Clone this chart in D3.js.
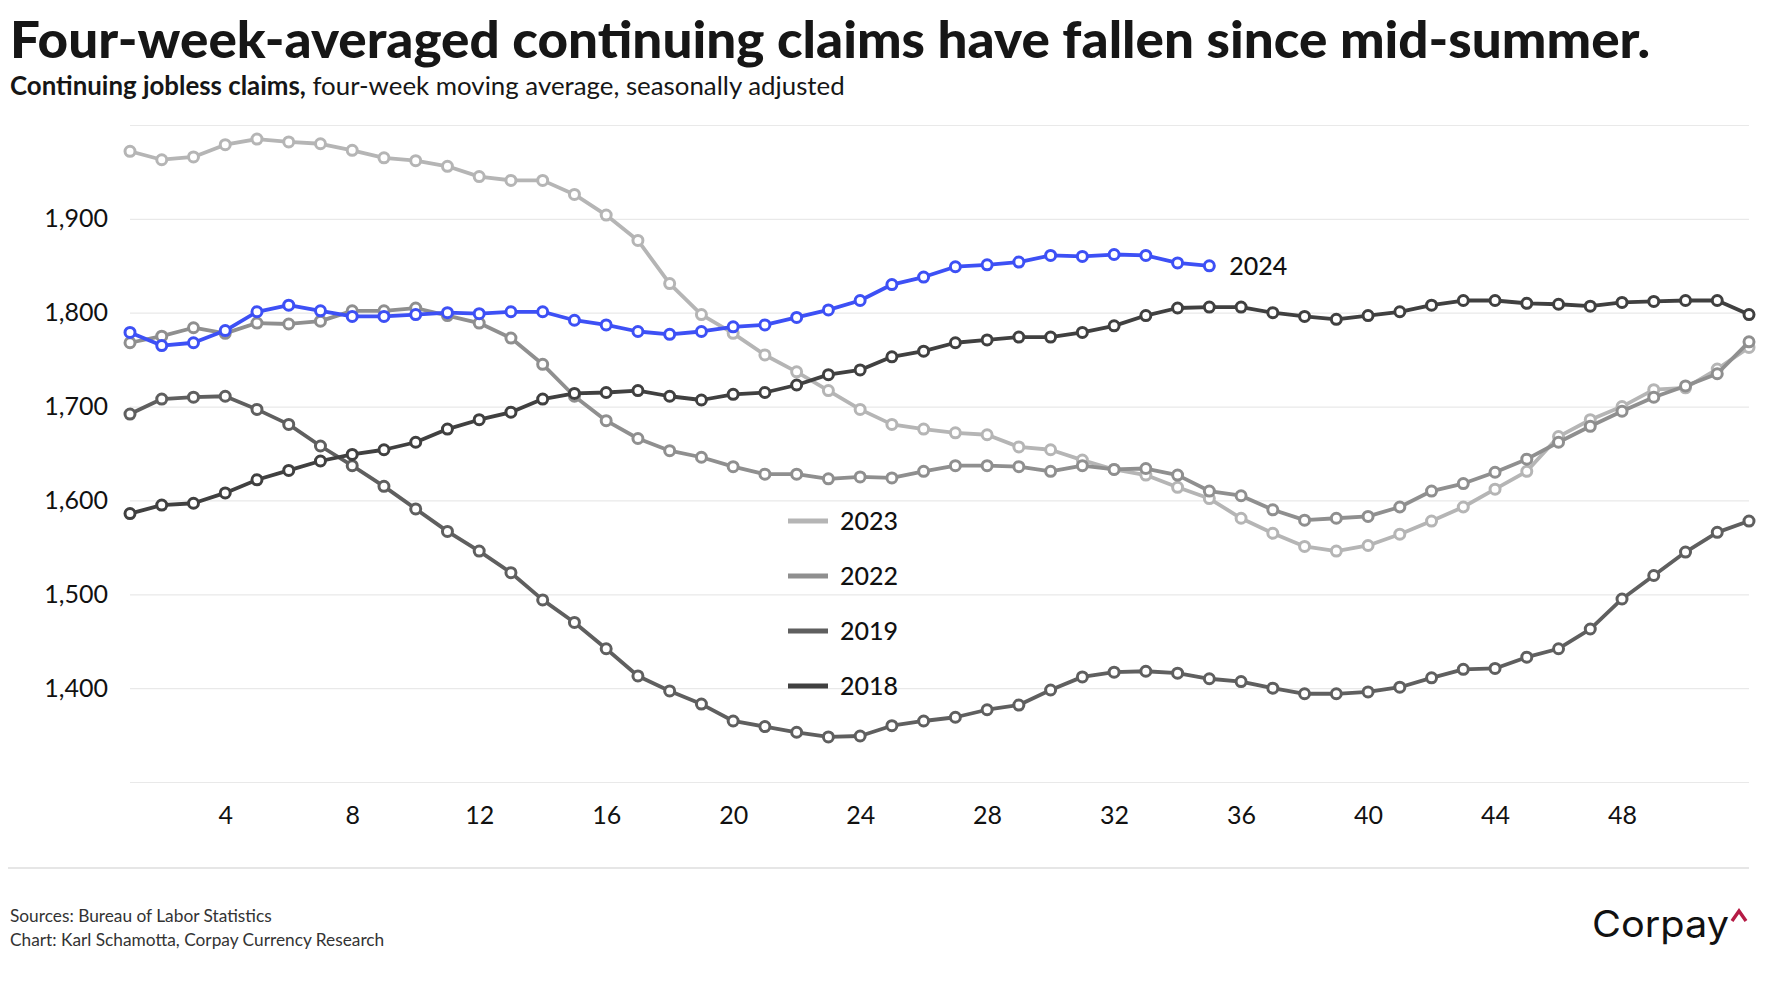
<!DOCTYPE html>
<html>
<head>
<meta charset="utf-8">
<script src="https://cdn.jsdelivr.net/npm/d3@7"></script>
<style>
  body { margin: 0; background: #fff; }
  svg { display: block; font-family: Lato, "Noto Sans", sans-serif; }
</style>
</head>
<body>
<script>
/*** global variable/s ***/
const width = 1766, height = 1000;

const weeks = d3.range(1, 53);
const xTicks = [4, 8, 12, 16, 20, 24, 28, 32, 36, 40, 44, 48];
const yTicks = [1400, 1500, 1600, 1700, 1800, 1900];
const gridValues = [1300, 1400, 1500, 1600, 1700, 1800, 1900, 2000];

// thousands
const claims2023 = [1972, 1963, 1966, 1979, 1985, 1982, 1980, 1973, 1965, 1962, 1956, 1945, 1941, 1941, 1926, 1904, 1877, 1831, 1798, 1778, 1755, 1737, 1717, 1697, 1681, 1676, 1672, 1670, 1657, 1654, 1643, 1633, 1627, 1614, 1602, 1581, 1565, 1551, 1546, 1552, 1564, 1578, 1593, 1612, 1631, 1668, 1686, 1700, 1718, 1720, 1740, 1763];
const claims2022 = [1768, 1775, 1784, 1778, 1789, 1788, 1791, 1802, 1802, 1805, 1797, 1789, 1773, 1745, 1711, 1685, 1666, 1653, 1646, 1636, 1628, 1628, 1623, 1625, 1624, 1631, 1637, 1637, 1636, 1631, 1637, 1633, 1634, 1627, 1610, 1605, 1590, 1579, 1581, 1583, 1593, 1610, 1618, 1630, 1644, 1662, 1679, 1695, 1710, 1722, 1735, 1769];
const claims2019 = [1692, 1708, 1710, 1711, 1697, 1681, 1658, 1637, 1615, 1591, 1567, 1546, 1523, 1494, 1470, 1442, 1413, 1397, 1383, 1365, 1359, 1353, 1348, 1349, 1360, 1365, 1369, 1377, 1382, 1398, 1412, 1417, 1418, 1416, 1410, 1407, 1400, 1394, 1394, 1396, 1401, 1411, 1420, 1421, 1433, 1442, 1463, 1495, 1520, 1545, 1566, 1578];
const claims2018 = [1586, 1595, 1597, 1608, 1622, 1632, 1642, 1649, 1654, 1662, 1676, 1686, 1694, 1708, 1714, 1715, 1717, 1711, 1707, 1713, 1715, 1723, 1734, 1739, 1753, 1759, 1768, 1771, 1774, 1774, 1779, 1786, 1797, 1805, 1806, 1806, 1800, 1796, 1793, 1797, 1801, 1808, 1813, 1813, 1810, 1809, 1807, 1811, 1812, 1813, 1813, 1798];
const claims2024 = [1779, 1765, 1768, 1781, 1801, 1808, 1802, 1796, 1796, 1798, 1800, 1799, 1801, 1801, 1792, 1787, 1780, 1777, 1780, 1785, 1787, 1795, 1803, 1813, 1830, 1838, 1849, 1851, 1854, 1861, 1860, 1862, 1861, 1853, 1850];

const series = [
  { name: "2023", values: claims2023, color: "#b5b5b5" },
  { name: "2022", values: claims2022, color: "#8f8f8f" },
  { name: "2019", values: claims2019, color: "#5f5f5f" },
  { name: "2018", values: claims2018, color: "#404040" },
  { name: "2024", values: claims2024, color: "#3d50f5" }
];
const legendNames = ["2023", "2022", "2019", "2018"];

/*** scales ***/
const x = d3.scaleLinear().domain([1, 52]).range([130, 1749]);
const y = d3.scaleLinear().domain([1300, 2000]).range([782, 125]);

const svg = d3.select("body").append("svg")
  .attr("width", width)
  .attr("height", height)
  .attr("viewBox", [0, 0, width, height]);

/*** title ***/
svg.append("text")
  .attr("x", 10).attr("y", 58)
  .attr("font-size", 52)
  .attr("font-weight", 900)
  .attr("fill", "#161616")
  .attr("textLength", 1640)
  .attr("lengthAdjust", "spacingAndGlyphs")
  .text("Four-week-averaged continuing claims have fallen since mid-summer.");

const sub = svg.append("text")
  .attr("x", 10).attr("y", 95)
  .attr("font-size", 24)
  .attr("fill", "#161616");
sub.append("tspan").attr("font-weight", 700).text("Continuing jobless claims,");
sub.append("tspan").text(" four-week moving average, seasonally adjusted");
const subW = sub.node().getComputedTextLength();
sub.attr("font-size", 24 * 835 / subW);

/*** grid + axes ***/
svg.append("g")
  .attr("transform", `translate(${x(1)},0)`)
  .call(d3.axisLeft(y).tickValues(gridValues).tickSize(-(x(52) - x(1))).tickFormat(""))
  .call(g => g.select(".domain").remove())
  .call(g => g.selectAll(".tick line").attr("stroke", "#e9e9e9").attr("stroke-width", 1.2));

svg.append("g")
  .attr("transform", "translate(108,0)")
  .call(d3.axisLeft(y).tickValues(yTicks).tickSize(0).tickPadding(0).tickFormat(d3.format(",")))
  .call(g => g.select(".domain").remove())
  .call(g => g.selectAll("text")
    .attr("font-size", 25)
    .attr("font-family", "Lato, sans-serif")
    .attr("fill", "#111"));

svg.append("g")
  .attr("transform", `translate(0,${y(1300)})`)
  .call(d3.axisBottom(x).tickValues(xTicks).tickSize(0).tickPadding(24))
  .call(g => g.select(".domain").remove())
  .call(g => g.selectAll("text")
    .attr("font-size", 25)
    .attr("font-family", "Lato, sans-serif")
    .attr("fill", "#111"));

/*** lines ***/
const line = d3.line()
  .x((d, i) => x(weeks[i]))
  .y(d => y(d));

const lines = svg.append("g")
  .selectAll("g")
  .data(series)
  .join("g");

lines.append("path")
  .attr("d", d => line(d.values))
  .attr("fill", "none")
  .attr("stroke", d => d.color)
  .attr("stroke-width", 3.8)
  .attr("stroke-linejoin", "round");

lines.selectAll("circle")
  .data(d => d.values.map((v, i) => ({ v, i, color: d.color })))
  .join("circle")
  .attr("cx", d => x(weeks[d.i]))
  .attr("cy", d => y(d.v))
  .attr("r", 5)
  .attr("fill", "#fff")
  .attr("stroke", d => d.color)
  .attr("stroke-width", 3);

// 2024 end label
svg.append("text")
  .attr("x", x(claims2024.length) + 20)
  .attr("y", y(claims2024[claims2024.length - 1]))
  .attr("dy", "0.35em")
  .attr("font-size", 25)
  .attr("font-weight", 500)
  .attr("fill", "#111")
  .text("2024");

/*** legend ***/
const legend = svg.append("g")
  .selectAll("g")
  .data(legendNames.map(n => series.find(s => s.name === n)))
  .join("g")
  .attr("transform", (d, i) => `translate(788,${521 + i * 55})`);

legend.append("line")
  .attr("x1", 0).attr("x2", 40)
  .attr("stroke", d => d.color)
  .attr("stroke-width", 5);

legend.append("text")
  .attr("x", 52)
  .attr("dy", "0.35em")
  .attr("font-size", 25)
  .attr("font-weight", 500)
  .attr("fill", "#111")
  .text(d => d.name);

/*** footer ***/
svg.append("line")
  .attr("x1", 8).attr("x2", 1749)
  .attr("y1", 868).attr("y2", 868)
  .attr("stroke", "#dedede")
  .attr("stroke-width", 1.5);

svg.append("text")
  .attr("x", 10).attr("y", 922)
  .attr("font-size", 17.3)
  .attr("fill", "#333")
  .text("Sources: Bureau of Labor Statistics");

svg.append("text")
  .attr("x", 10).attr("y", 946)
  .attr("font-size", 17.3)
  .attr("fill", "#333")
  .text("Chart: Karl Schamotta, Corpay Currency Research");

svg.append("text")
  .attr("x", 1592).attr("y", 937)
  .attr("font-size", 37)
  .attr("font-family", "Inter, sans-serif")
  .attr("fill", "#111")
  .attr("textLength", 137)
  .attr("lengthAdjust", "spacingAndGlyphs")
  .text("Corpay");

svg.append("path")
  .attr("d", "M1732,921 L1739,911 L1746,921")
  .attr("fill", "none")
  .attr("stroke", "#b51b45")
  .attr("stroke-width", 3.4);
</script>
</body>
</html>
